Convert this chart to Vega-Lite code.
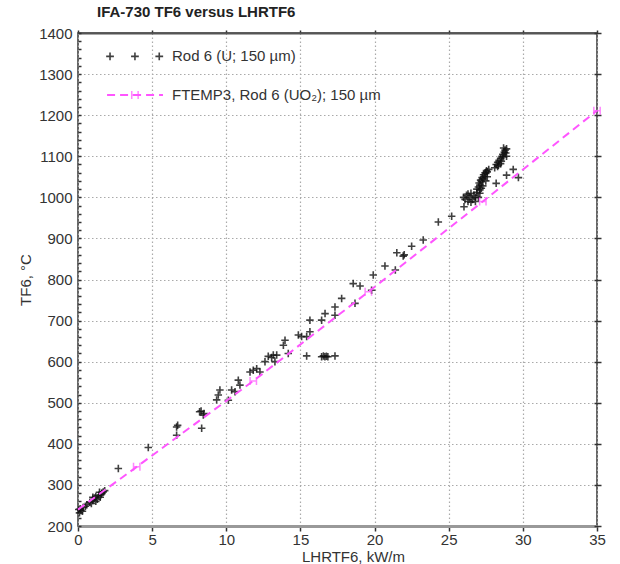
{
  "$schema": "https://vega.github.io/schema/vega-lite/v6.json",
  "autosize": {"type": "none"},
  "padding": {"left": 78, "top": 33, "right": 23, "bottom": 38},
  "width": 519,
  "height": 493,
  "background": "white",
  "title": {"text": "IFA-730 TF6 versus LHRTF6", "fontSize": 15, "fontWeight": "bold", "anchor": "start", "frame": "group", "dx": 19, "offset": 6, "color": "#222", "font": "Liberation Sans"},
  "config": {"font": "Liberation Sans", "view": {"stroke": "#333", "strokeWidth": 1.5}},
  "datasets": {
    "rod": [
      {"x": 0.05, "y": 240}, {"x": 0.1, "y": 232}, {"x": 0.15, "y": 242}, {"x": 0.2, "y": 238}, {"x": 0.3, "y": 236}, {"x": 0.35, "y": 245}, {"x": 0.5, "y": 248}, {"x": 0.6, "y": 252}, {"x": 0.8, "y": 258}, {"x": 0.9, "y": 255}, {"x": 1.0, "y": 262}, {"x": 1.0, "y": 270}, {"x": 1.1, "y": 268}, {"x": 1.2, "y": 260}, {"x": 1.2, "y": 272}, {"x": 1.3, "y": 265}, {"x": 1.4, "y": 275}, {"x": 1.45, "y": 282}, {"x": 1.5, "y": 270}, {"x": 1.55, "y": 276}, {"x": 1.6, "y": 280}, {"x": 1.7, "y": 283}, {"x": 1.8, "y": 286},
      {"x": 2.72, "y": 340}, {"x": 4.74, "y": 391}, {"x": 6.65, "y": 441}, {"x": 6.72, "y": 445}, {"x": 6.65, "y": 421}, {"x": 8.34, "y": 438}, {"x": 8.3, "y": 480}, {"x": 8.45, "y": 470}, {"x": 8.2, "y": 478}, {"x": 8.5, "y": 474},
      {"x": 9.35, "y": 507}, {"x": 9.46, "y": 519}, {"x": 9.57, "y": 531}, {"x": 10.14, "y": 506}, {"x": 10.36, "y": 531}, {"x": 10.59, "y": 527}, {"x": 10.81, "y": 555}, {"x": 10.92, "y": 543}, {"x": 11.6, "y": 575}, {"x": 11.82, "y": 579}, {"x": 12.05, "y": 583}, {"x": 12.27, "y": 575}, {"x": 12.61, "y": 600}, {"x": 12.83, "y": 613}, {"x": 13.06, "y": 610}, {"x": 13.28, "y": 600}, {"x": 13.4, "y": 616}, {"x": 13.17, "y": 616},
      {"x": 13.85, "y": 640}, {"x": 13.96, "y": 652}, {"x": 14.18, "y": 620}, {"x": 14.86, "y": 665}, {"x": 15.08, "y": 661}, {"x": 15.42, "y": 661}, {"x": 15.64, "y": 673}, {"x": 15.64, "y": 701}, {"x": 15.42, "y": 614}, {"x": 16.43, "y": 612}, {"x": 16.55, "y": 614}, {"x": 16.65, "y": 612}, {"x": 16.75, "y": 613}, {"x": 16.85, "y": 612}, {"x": 17.33, "y": 614},
      {"x": 16.43, "y": 701}, {"x": 16.66, "y": 717}, {"x": 17.33, "y": 713}, {"x": 17.33, "y": 733}, {"x": 17.78, "y": 754}, {"x": 18.68, "y": 742}, {"x": 18.56, "y": 790}, {"x": 19.02, "y": 784}, {"x": 19.8, "y": 774}, {"x": 19.91, "y": 811}, {"x": 20.7, "y": 833}, {"x": 21.4, "y": 823}, {"x": 21.5, "y": 865}, {"x": 21.93, "y": 857}, {"x": 22.0, "y": 860}, {"x": 22.5, "y": 881}, {"x": 23.28, "y": 896}, {"x": 24.3, "y": 940}, {"x": 25.2, "y": 954}, {"x": 26.03, "y": 977},
      {"x": 26.0, "y": 1000}, {"x": 26.1, "y": 995}, {"x": 26.2, "y": 1005}, {"x": 26.3, "y": 990}, {"x": 26.4, "y": 1000}, {"x": 26.5, "y": 1010}, {"x": 26.6, "y": 995}, {"x": 26.7, "y": 1005}, {"x": 26.8, "y": 1000}, {"x": 26.9, "y": 1012}, {"x": 27.0, "y": 1000}, {"x": 26.3, "y": 1008}, {"x": 26.5, "y": 988}, {"x": 26.8, "y": 990}, {"x": 27.1, "y": 1010},
      {"x": 26.9, "y": 1020}, {"x": 27.0, "y": 1025}, {"x": 27.05, "y": 1035}, {"x": 27.1, "y": 1030}, {"x": 27.15, "y": 1042}, {"x": 27.2, "y": 1038}, {"x": 27.25, "y": 1048}, {"x": 27.3, "y": 1045}, {"x": 27.35, "y": 1055}, {"x": 27.4, "y": 1050}, {"x": 27.45, "y": 1060}, {"x": 27.5, "y": 1058}, {"x": 27.55, "y": 1065}, {"x": 27.6, "y": 1062}, {"x": 27.7, "y": 1068}, {"x": 27.1, "y": 1018}, {"x": 27.3, "y": 1028}, {"x": 27.5, "y": 1040}, {"x": 27.6, "y": 1050}, {"x": 27.2, "y": 1022},
      {"x": 28.1, "y": 1072}, {"x": 28.2, "y": 1080}, {"x": 28.3, "y": 1085}, {"x": 28.35, "y": 1078}, {"x": 28.4, "y": 1090}, {"x": 28.5, "y": 1095}, {"x": 28.55, "y": 1088}, {"x": 28.6, "y": 1100}, {"x": 28.65, "y": 1105}, {"x": 28.7, "y": 1098}, {"x": 28.75, "y": 1110}, {"x": 28.8, "y": 1115}, {"x": 28.85, "y": 1108}, {"x": 28.9, "y": 1118}, {"x": 28.7, "y": 1120}, {"x": 28.5, "y": 1082}, {"x": 28.3, "y": 1075}, {"x": 28.9, "y": 1100},
      {"x": 28.2, "y": 1034}, {"x": 28.9, "y": 1054}, {"x": 29.35, "y": 1068}, {"x": 29.7, "y": 1048}
    ],
    "ftemp": [
      {"x": 0, "y": 240}, {"x": 3.96, "y": 344}, {"x": 11.82, "y": 553}, {"x": 19.58, "y": 770}, {"x": 27.3, "y": 990}, {"x": 35, "y": 1211}
    ],
    "legendPts": [{"x": 2.16, "y": 1343}, {"x": 3.84, "y": 1343}, {"x": 5.48, "y": 1343}],
    "legendLine": [{"x": 1.96, "y": 1249}, {"x": 5.73, "y": 1249}],
    "legendH": [{"x": 3.84, "y": 1249}],
    "legendText": [
      {"x": 6.34, "y": 1343, "label": "Rod 6 (U; 150 µm)"},
      {"x": 6.34, "y": 1249, "label": "FTEMP3, Rod 6 (UO₂); 150 µm"}
    ]
  },
  "layer": [
    {
      "data": {"name": "rod"},
      "mark": {"type": "point", "shape": "M-1,0H1M0,-1V1", "size": 56, "filled": false, "stroke": "#111", "strokeWidth": 1.6, "opacity": 0.8},
      "encoding": {
        "x": {"field": "x", "type": "quantitative", "scale": {"domain": [0, 35], "nice": false, "zero": false},
          "axis": {"orient": "bottom", "values": [0, 5, 10, 15, 20, 25, 30, 35], "title": "LHRTF6, kW/m", "titleFontSize": 15, "titleFontWeight": "normal", "titleColor": "#333", "titlePadding": 2, "titleX": 275,
            "labelFontSize": 15, "labelColor": "#333", "labelPadding": 1, "labelFlush": false, "ticks": true, "tickSize": 5, "tickWidth": 1.5, "tickColor": "#333", "domainColor": "#999", "domainWidth": 3,
            "grid": true, "gridColor": "#aaa", "gridWidth": 1.2, "gridDash": [1.5, 2.5], "labelOverlap": false}},
        "y": {"field": "y", "type": "quantitative", "scale": {"domain": [200, 1400], "nice": false, "zero": false},
          "axis": {"orient": "left", "offset": -3, "domain": false, "values": [200,220,240,260,280,300,320,340,360,380,400,420,440,460,480,500,520,540,560,580,600,620,640,660,680,700,720,740,760,780,800,820,840,860,880,900,920,940,960,980,1000,1020,1040,1060,1080,1100,1120,1140,1160,1180,1200,1220,1240,1260,1280,1300,1320,1340,1360,1380,1400],
            "format": "d", "labelExpr": "datum.value % 100 === 0 ? datum.label : ''", "labelOverlap": false, "labelFlush": false, "labelFontSize": 15, "labelColor": "#333", "labelPadding": 6,
            "ticks": true, "tickSize": 3, "tickWidth": 1.5, "tickColor": "#333", "grid": false,
            "title": "TF6, °C", "titleFontSize": 15, "titleFontWeight": "normal", "titleColor": "#333", "titlePadding": 5}}
      }
    },
    {
      "data": {"name": "ftemp"},
      "mark": {"type": "line", "color": "#f5f", "strokeWidth": 2, "strokeDash": [8, 5]},
      "encoding": {
        "x": {"field": "x", "type": "quantitative", "scale": {"domain": [0, 35], "nice": false, "zero": false},
          "axis": {"orient": "top", "values": [0, 5, 10, 15, 20, 25, 30, 35], "labels": false, "title": null, "grid": false, "ticks": true, "tickSize": 3, "tickWidth": 1.5, "tickColor": "#333", "domainColor": "#555", "domainWidth": 2}},
        "y": {"field": "y", "type": "quantitative", "scale": {"domain": [200, 1400], "nice": false, "zero": false},
          "axis": {"orient": "right", "offset": -3, "domain": false, "values": [200,300,400,500,600,700,800,900,1000,1100,1200,1300,1400],
            "labels": false, "title": null, "grid": true, "gridColor": "#aaa", "gridWidth": 1.2, "gridDash": [1.5, 2.5],
            "ticks": true, "tickSize": 7, "tickWidth": 1.5, "tickColor": "#333"}}
      }
    },
    {
      "data": {"name": "ftemp"},
      "transform": [{"filter": "datum.x > 0"}],
      "mark": {"type": "point", "shape": "M-0.8,-1V1M0.8,-1V1M-0.8,0H0.8", "size": 64, "filled": false, "stroke": "#f5f", "strokeWidth": 1.5},
      "encoding": {
        "x": {"field": "x", "type": "quantitative", "scale": {"domain": [0, 35], "nice": false, "zero": false}, "axis": null},
        "y": {"field": "y", "type": "quantitative", "scale": {"domain": [200, 1400], "nice": false, "zero": false}, "axis": null}
      }
    },
    {
      "data": {"name": "legendPts"},
      "mark": {"type": "point", "shape": "M-1,0H1M0,-1V1", "size": 60, "filled": false, "stroke": "#111", "strokeWidth": 1.6, "opacity": 0.8},
      "encoding": {
        "x": {"field": "x", "type": "quantitative", "scale": {"domain": [0, 35], "nice": false, "zero": false}, "axis": null},
        "y": {"field": "y", "type": "quantitative", "scale": {"domain": [200, 1400], "nice": false, "zero": false}, "axis": null}
      }
    },
    {
      "data": {"name": "legendLine"},
      "mark": {"type": "line", "color": "#f5f", "strokeWidth": 2, "strokeDash": [8, 5]},
      "encoding": {
        "x": {"field": "x", "type": "quantitative", "scale": {"domain": [0, 35], "nice": false, "zero": false}, "axis": null},
        "y": {"field": "y", "type": "quantitative", "scale": {"domain": [200, 1400], "nice": false, "zero": false}, "axis": null}
      }
    },
    {
      "data": {"name": "legendH"},
      "mark": {"type": "point", "shape": "M-0.8,-1V1M0.8,-1V1M-0.8,0H0.8", "size": 64, "filled": false, "stroke": "#f5f", "strokeWidth": 1.5},
      "encoding": {
        "x": {"field": "x", "type": "quantitative", "scale": {"domain": [0, 35], "nice": false, "zero": false}, "axis": null},
        "y": {"field": "y", "type": "quantitative", "scale": {"domain": [200, 1400], "nice": false, "zero": false}, "axis": null}
      }
    },
    {
      "data": {"name": "legendText"},
      "mark": {"type": "text", "align": "left", "baseline": "middle", "fontSize": 15, "color": "#333", "font": "Liberation Sans"},
      "encoding": {
        "x": {"field": "x", "type": "quantitative", "scale": {"domain": [0, 35], "nice": false, "zero": false}, "axis": null},
        "y": {"field": "y", "type": "quantitative", "scale": {"domain": [200, 1400], "nice": false, "zero": false}, "axis": null},
        "text": {"field": "label", "type": "nominal"}
      }
    }
  ],
  "resolve": {"axis": {"x": "independent", "y": "independent"}}
}
